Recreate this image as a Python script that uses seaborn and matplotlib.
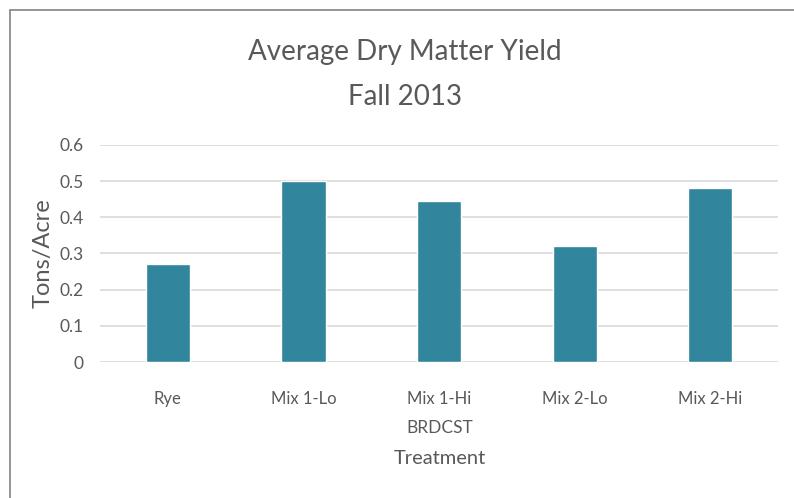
import pandas as pd
import seaborn as sns
import matplotlib.pyplot as plt
from matplotlib.lines import Line2D

# data
treatments = ["Rye", "Mix 1-Lo", "Mix 1-Hi", "Mix 2-Lo", "Mix 2-Hi"]
tons_per_acre = [0.27, 0.50, 0.444, 0.321, 0.481]
y_ticks = [0, 0.1, 0.2, 0.3, 0.4, 0.5, 0.6]
y_tick_labels = ["0", "0.1", "0.2", "0.3", "0.4", "0.5", "0.6"]

df = pd.DataFrame({"Treatment": treatments, "Yield": tons_per_acre})

sns.set_theme(style="white")
plt.rcParams["font.family"] = ["Lato", "DejaVu Sans"]
text_col = "#595959"

fig = plt.figure(figsize=(7.94, 4.98), dpi=100)
ax = fig.add_axes([0.126, 0.273, 0.854, 0.436])

sns.barplot(data=df, x="Treatment", y="Yield", color="#31859C", saturation=1,
            width=0.325, ax=ax, zorder=3)

ax.set_ylim(0, 0.6)
ax.set_yticks(y_ticks)
ax.set_yticklabels(y_tick_labels)
ax.grid(axis="y", color="#D9D9D9", linewidth=1.2, zorder=0)
ax.set_axisbelow(True)
for s in ax.spines.values():
    s.set_visible(False)
ax.tick_params(axis="x", length=0, labelsize=12, colors=text_col, pad=21)
ax.tick_params(axis="y", length=0, labelsize=12.5, colors=text_col, pad=12)

ax.set_xlabel("")
ax.set_ylabel("Tons/Acre", fontsize=17, color=text_col, labelpad=4)

fig.text(0.554, 0.14, "BRDCST", ha="center", va="center", fontsize=12.5, color=text_col)
fig.text(0.554, 0.08, "Treatment", ha="center", va="center", fontsize=14.5, color=text_col)

fig.text(0.51, 0.895, "Average Dry Matter Yield", ha="center", va="center",
         fontsize=20, color=text_col)
fig.text(0.51, 0.805, "Fall 2013", ha="center", va="center",
         fontsize=20, color=text_col)

# chart frame (top and left edges visible)
fig.add_artist(Line2D([10 / 794, 10 / 794], [0, 1 - 10 / 498], transform=fig.transFigure,
                      color="#8C8C8C", linewidth=1.3))
fig.add_artist(Line2D([10 / 794, 1], [1 - 10 / 498, 1 - 10 / 498], transform=fig.transFigure,
                      color="#8C8C8C", linewidth=1.3))

fig.savefig("out.png", dpi=100)
